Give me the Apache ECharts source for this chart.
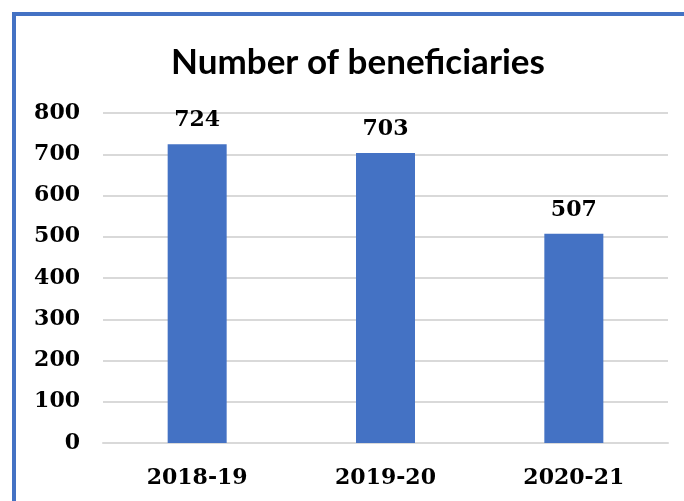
<!DOCTYPE html>
<html>
<head>
<meta charset="utf-8">
<script src="https://cdn.jsdelivr.net/npm/echarts@6/dist/echarts.min.js"></script>
<style>
html,body{margin:0;padding:0;background:#fff;}
#chart{width:684px;height:501px;}
</style>
</head>
<body>
<div id="chart"></div>
<script>
const categories = ["2018-19", "2019-20", "2020-21"];
const beneficiaries = [724, 703, 507];
const yTicks = [0, 100, 200, 300, 400, 500, 600, 700, 800];
const titleText = "Number of beneficiaries";

const chart = echarts.init(document.getElementById('chart'));
const serifBold = { fontFamily: 'DejaVu Serif', fontWeight: 'bold', fontSize: 22, color: '#000' };
chart.setOption({
  animation: false,
  backgroundColor: '#fff',
  title: {
    text: titleText,
    left: 353, top: 40, textAlign: 'center',
    textStyle: { fontFamily: 'Lato', fontWeight: 'bold', fontSize: 35, color: '#000' }
  },
  graphic: [
    { type: 'rect', shape: { x: 12, y: 12, width: 700, height: 4 }, style: { fill: '#4472C4' } },
    { type: 'rect', shape: { x: 12, y: 12, width: 4, height: 500 }, style: { fill: '#4472C4' } }
  ],
  grid: { left: 103, right: 16, top: 113, bottom: 58, containLabel: false },
  xAxis: {
    type: 'category', data: categories,
    axisLine: { show: true, lineStyle: { color: '#d9d9d9', width: 2 } },
    axisTick: { show: false },
    axisLabel: Object.assign({ margin: 24 }, serifBold)
  },
  yAxis: {
    type: 'value', min: yTicks[0], max: yTicks[yTicks.length - 1], interval: 100,
    axisLine: { show: false }, axisTick: { show: false },
    splitLine: { lineStyle: { color: '#d9d9d9', width: 2 } },
    axisLabel: Object.assign({ margin: 23 }, serifBold)
  },
  series: [{
    type: 'bar', data: beneficiaries, barWidth: 59,
    itemStyle: { color: '#4472C4' },
    label: Object.assign({ show: true, position: 'top', distance: 13 }, serifBold)
  }]
});
</script>
</body>
</html>
